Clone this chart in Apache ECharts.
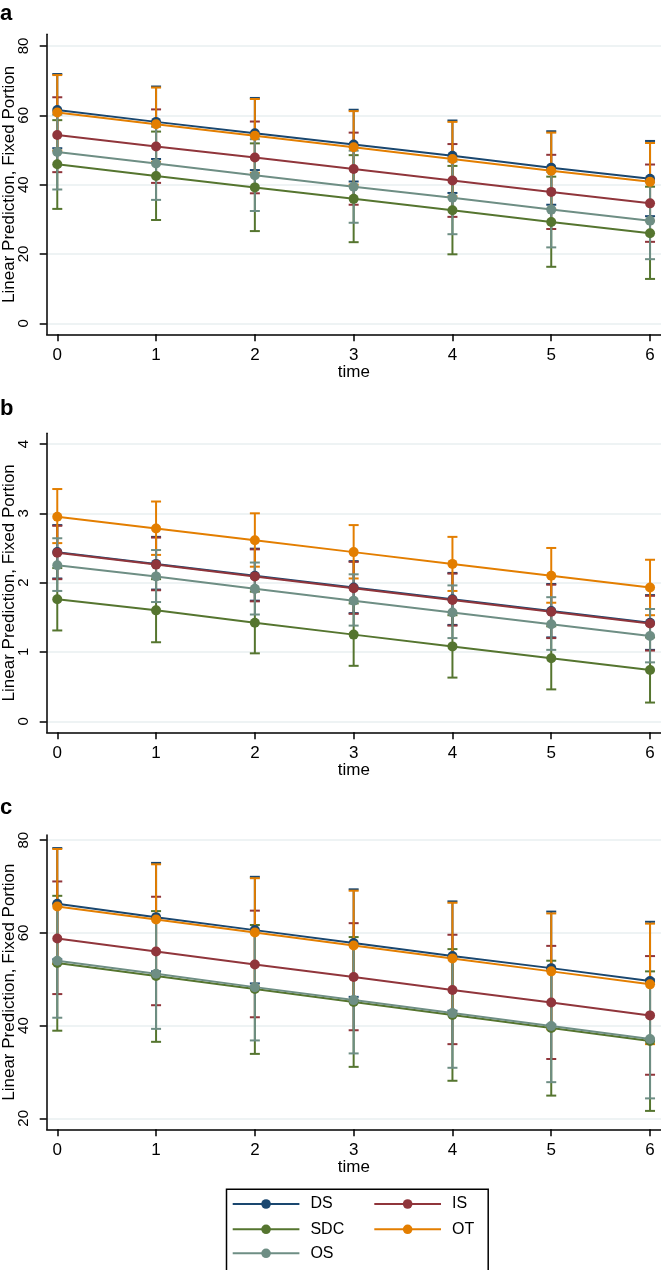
<!DOCTYPE html>
<html>
<head>
<meta charset="utf-8">
<script src="https://cdn.jsdelivr.net/npm/echarts@6/dist/echarts.min.js"></script>
<style>html,body{margin:0;padding:0;background:#fff}#chart{width:661px;height:1270px}</style>
</head>
<body>
<div id="chart"></div>
<script>
// ---- data ----
const time = [0, 1, 2, 3, 4, 5, 6];
const seriesNames = ['DS', 'IS', 'SDC', 'OT', 'OS'];
const panelLabels = ['a', 'b', 'c'];
const xTicks = [0, 1, 2, 3, 4, 5, 6];
const yTicksA = [0, 20, 40, 60, 80];
const yTicksB = [0, 1, 2, 3, 4];
const yTicksC = [20, 40, 60, 80];

// Panel a
const A_DS = [61.5, 58.1, 54.8, 51.6, 48.3, 44.9, 41.7];
const A_DS_lo = [50.5, 47.4, 44.2, 40.9, 37.6, 34.2, 30.9];
const A_DS_hi = [71.9, 68.3, 65.0, 61.6, 58.5, 55.4, 52.6];
const A_IS = [54.3, 51.0, 47.8, 44.5, 41.2, 37.9, 34.6];
const A_IS_lo = [43.6, 40.5, 37.5, 34.2, 30.7, 27.2, 23.5];
const A_IS_hi = [65.2, 61.7, 58.2, 55.0, 51.7, 48.6, 45.8];
const A_SDC = [45.9, 42.5, 39.2, 35.9, 32.6, 29.2, 26.0];
const A_SDC_lo = [33.0, 29.8, 26.6, 23.4, 19.9, 16.3, 12.8];
const A_SDC_hi = [58.6, 55.3, 51.9, 48.5, 45.4, 42.3, 39.4];
const A_OT = [60.8, 57.4, 54.1, 50.8, 47.4, 44.0, 40.8];
const A_OT_lo = [49.8, 46.6, 43.4, 40.0, 36.6, 33.0, 29.6];
const A_OT_hi = [71.6, 68.0, 64.7, 61.2, 58.1, 55.0, 52.0];
const A_OS = [49.4, 46.1, 42.7, 39.4, 36.2, 32.8, 29.6];
const A_OS_lo = [38.6, 35.6, 32.4, 29.0, 25.7, 21.9, 18.5];
const A_OS_hi = [60.2, 56.7, 53.1, 49.8, 46.7, 43.7, 40.7];

// Panel b
const B_DS = [2.44, 2.27, 2.10, 1.93, 1.76, 1.59, 1.42];
const B_DS_lo = [2.06, 1.90, 1.74, 1.56, 1.39, 1.21, 1.03];
const B_DS_hi = [2.83, 2.66, 2.49, 2.31, 2.14, 1.98, 1.82];
const B_IS = [2.43, 2.26, 2.09, 1.92, 1.75, 1.58, 1.41];
const B_IS_lo = [2.05, 1.89, 1.73, 1.55, 1.38, 1.20, 1.02];
const B_IS_hi = [2.82, 2.65, 2.48, 2.30, 2.13, 1.97, 1.81];
const B_SDC = [1.76, 1.60, 1.42, 1.25, 1.08, 0.91, 0.74];
const B_SDC_lo = [1.31, 1.14, 0.98, 0.80, 0.63, 0.46, 0.27];
const B_SDC_hi = [2.21, 2.05, 1.87, 1.70, 1.53, 1.37, 1.21];
const B_OT = [2.95, 2.78, 2.61, 2.44, 2.27, 2.10, 1.93];
const B_OT_lo = [2.57, 2.40, 2.23, 2.06, 1.88, 1.71, 1.53];
const B_OT_hi = [3.35, 3.17, 3.00, 2.83, 2.66, 2.50, 2.33];
const B_OS = [2.25, 2.09, 1.91, 1.74, 1.57, 1.40, 1.23];
const B_OS_lo = [1.88, 1.72, 1.54, 1.38, 1.20, 1.03, 0.85];
const B_OS_hi = [2.64, 2.47, 2.29, 2.12, 1.96, 1.79, 1.62];

// Panel c
const C_DS = [66.3, 63.4, 60.6, 57.8, 55.0, 52.4, 49.6];
const C_DS_lo = [54.3, 51.7, 49.1, 46.2, 43.2, 40.2, 36.8];
const C_DS_hi = [78.3, 75.1, 72.1, 69.4, 66.8, 64.6, 62.4];
const C_IS = [58.8, 56.0, 53.2, 50.5, 47.7, 45.0, 42.2];
const C_IS_lo = [46.8, 44.4, 41.8, 39.0, 36.0, 32.8, 29.4];
const C_IS_hi = [71.1, 67.8, 64.8, 62.1, 59.6, 57.2, 55.0];
const C_SDC = [53.5, 50.7, 47.9, 45.1, 42.3, 39.5, 36.7];
const C_SDC_lo = [38.9, 36.5, 33.9, 31.1, 28.1, 24.9, 21.6];
const C_SDC_hi = [68.0, 64.7, 61.7, 59.1, 56.5, 54.0, 51.7];
const C_OT = [65.7, 62.9, 60.1, 57.3, 54.5, 51.7, 48.9];
const C_OT_lo = [53.3, 51.0, 48.4, 45.5, 42.5, 39.2, 36.0];
const C_OT_hi = [78.1, 74.8, 71.8, 69.1, 66.5, 64.2, 62.0];
const C_OS = [54.0, 51.2, 48.3, 45.5, 42.7, 39.9, 37.1];
const C_OS_lo = [41.7, 39.3, 36.8, 34.0, 30.9, 27.8, 24.3];
const C_OS_hi = [66.3, 63.1, 60.0, 57.3, 54.7, 52.3, 50.0];

// ---- styling ----
const colors = {DS: '#1a476f', IS: '#90353b', SDC: '#55752f', OT: '#e37e00', OS: '#6e8e84'};
const FONT = "'Liberation Sans', Arial, Helvetica, sans-serif";

const panels = [
  {mean: [A_DS, A_IS, A_SDC, A_OT, A_OS], lo: [A_DS_lo, A_IS_lo, A_SDC_lo, A_OT_lo, A_OS_lo], hi: [A_DS_hi, A_IS_hi, A_SDC_hi, A_OT_hi, A_OS_hi], yTicks: yTicksA, ymin: -3.17, ymax: 83.36},
  {mean: [B_DS, B_IS, B_SDC, B_OT, B_OS], lo: [B_DS_lo, B_IS_lo, B_SDC_lo, B_OT_lo, B_OS_lo], hi: [B_DS_hi, B_IS_hi, B_SDC_hi, B_OT_hi, B_OS_hi], yTicks: yTicksB, ymin: -0.159, ymax: 4.154},
  {mean: [C_DS, C_IS, C_SDC, C_OT, C_OS], lo: [C_DS_lo, C_IS_lo, C_SDC_lo, C_OT_lo, C_OS_lo], hi: [C_DS_hi, C_IS_hi, C_SDC_hi, C_OT_hi, C_OS_hi], yTicks: yTicksC, ymin: 17.63, ymax: 81.12}
];
const gridBoxes = [
  {top: 34.3, height: 300},
  {top: 433.3, height: 299},
  {top: 835, height: 294.3}
];
const labelTops = [3.4, 397.5, 797.4];

function errRender(params, api) {
  const x = api.value(0), lo = api.value(1), hi = api.value(2);
  const pLo = api.coord([x, lo]);
  const pHi = api.coord([x, hi]);
  const hw = 5;
  const style = {stroke: api.visual('color'), lineWidth: 2, fill: null};
  return {
    type: 'group',
    children: [
      {type: 'line', shape: {x1: pLo[0], y1: pLo[1], x2: pHi[0], y2: pHi[1]}, style: style},
      {type: 'line', shape: {x1: pHi[0] - hw, y1: pHi[1], x2: pHi[0] + hw, y2: pHi[1]}, style: style},
      {type: 'line', shape: {x1: pLo[0] - hw, y1: pLo[1], x2: pLo[0] + hw, y2: pLo[1]}, style: style}
    ]
  };
}

const grid = [], xAxis = [], yAxis = [], series = [], title = [];
panels.forEach((p, k) => {
  grid.push({left: 46.7, right: 0, top: gridBoxes[k].top, height: gridBoxes[k].height,
    containLabel: false, outerBoundsMode: 'none'});
  title.push({text: panelLabels[k], left: 0, top: labelTops[k], padding: 0,
    textStyle: {fontFamily: FONT, fontWeight: 'bold', fontSize: 22, color: '#000'}});
  xAxis.push({
    type: 'value', gridIndex: k, min: -0.107, max: 6.111,
    name: 'time', nameLocation: 'middle', nameGap: 30, nameMoveOverlap: false,
    nameTextStyle: {fontFamily: FONT, fontSize: 17, color: '#000'},
    axisLine: {onZero: false, lineStyle: {color: '#000', width: 1.5}},
    axisTick: {show: true, length: 7, customValues: xTicks, lineStyle: {color: '#000', width: 1.5}},
    axisLabel: {customValues: xTicks, margin: 13, fontFamily: FONT, fontSize: 17, color: '#000'},
    splitLine: {show: false}
  });
  yAxis.push({
    type: 'value', gridIndex: k, min: p.ymin, max: p.ymax,
    name: 'Linear Prediction, Fixed Portion', nameLocation: 'middle', nameGap: 29, nameMoveOverlap: false,
    nameTextStyle: {fontFamily: FONT, fontSize: 17, color: '#000'},
    axisLine: {onZero: false, lineStyle: {color: '#000', width: 1.5}},
    axisTick: {show: true, length: 7, customValues: p.yTicks, lineStyle: {color: '#000', width: 1.5}},
    axisLabel: {customValues: p.yTicks, rotate: 90, margin: 15, fontFamily: FONT, fontSize: 15, color: '#000'},
    splitLine: {show: true, lineStyle: {color: '#e8eff1', width: 1.5}}
  });
  seriesNames.forEach((name, i) => {
    series.push({
      type: 'line', name: name, xAxisIndex: k, yAxisIndex: k, z: 3,
      data: time.map((t, j) => [t, p.mean[i][j]]),
      symbol: 'circle', symbolSize: 10, showSymbol: true,
      lineStyle: {color: colors[name], width: 2},
      itemStyle: {color: colors[name]},
      animation: false, silent: true
    });
  });
  seriesNames.forEach((name, i) => {
    series.push({
      type: 'custom', name: name + ' CI', xAxisIndex: k, yAxisIndex: k, z: 2,
      data: time.map((t, j) => [t, p.lo[i][j], p.hi[i][j]]),
      itemStyle: {color: colors[name]},
      renderItem: errRender,
      encode: {x: 0, y: [1, 2]},
      animation: false, silent: true
    });
  });
});

// legend: two columns, three rows (Stata order DS, IS / SDC, OT / OS)
const legendCols = [231.7, 373.3];
const legendRows = [1204, 1229.3, 1253.3];
const legend = seriesNames.map((name, i) => ({
  data: [name], orient: 'horizontal',
  left: legendCols[i % 2], top: legendRows[Math.floor(i / 2)] - 8,
  itemWidth: 66.7, itemHeight: 12, itemGap: 0,
  textStyle: {fontFamily: FONT, fontSize: 16, lineHeight: 16, color: '#000', padding: [0, 0, 0, 6]},
  selectedMode: false, padding: 0
}));

const chart = echarts.init(document.getElementById('chart'), null, {renderer: 'canvas'});
chart.setOption({
  backgroundColor: '#fff',
  animation: false,
  title: title,
  grid: grid,
  xAxis: xAxis,
  yAxis: yAxis,
  legend: legend,
  series: series,
  graphic: [{
    type: 'rect', left: 224, top: 1186.7,
    shape: {width: 261.7, height: 82.5},
    style: {fill: null, stroke: '#000', lineWidth: 1.5}, silent: true
  }]
});
</script>
</body>
</html>
